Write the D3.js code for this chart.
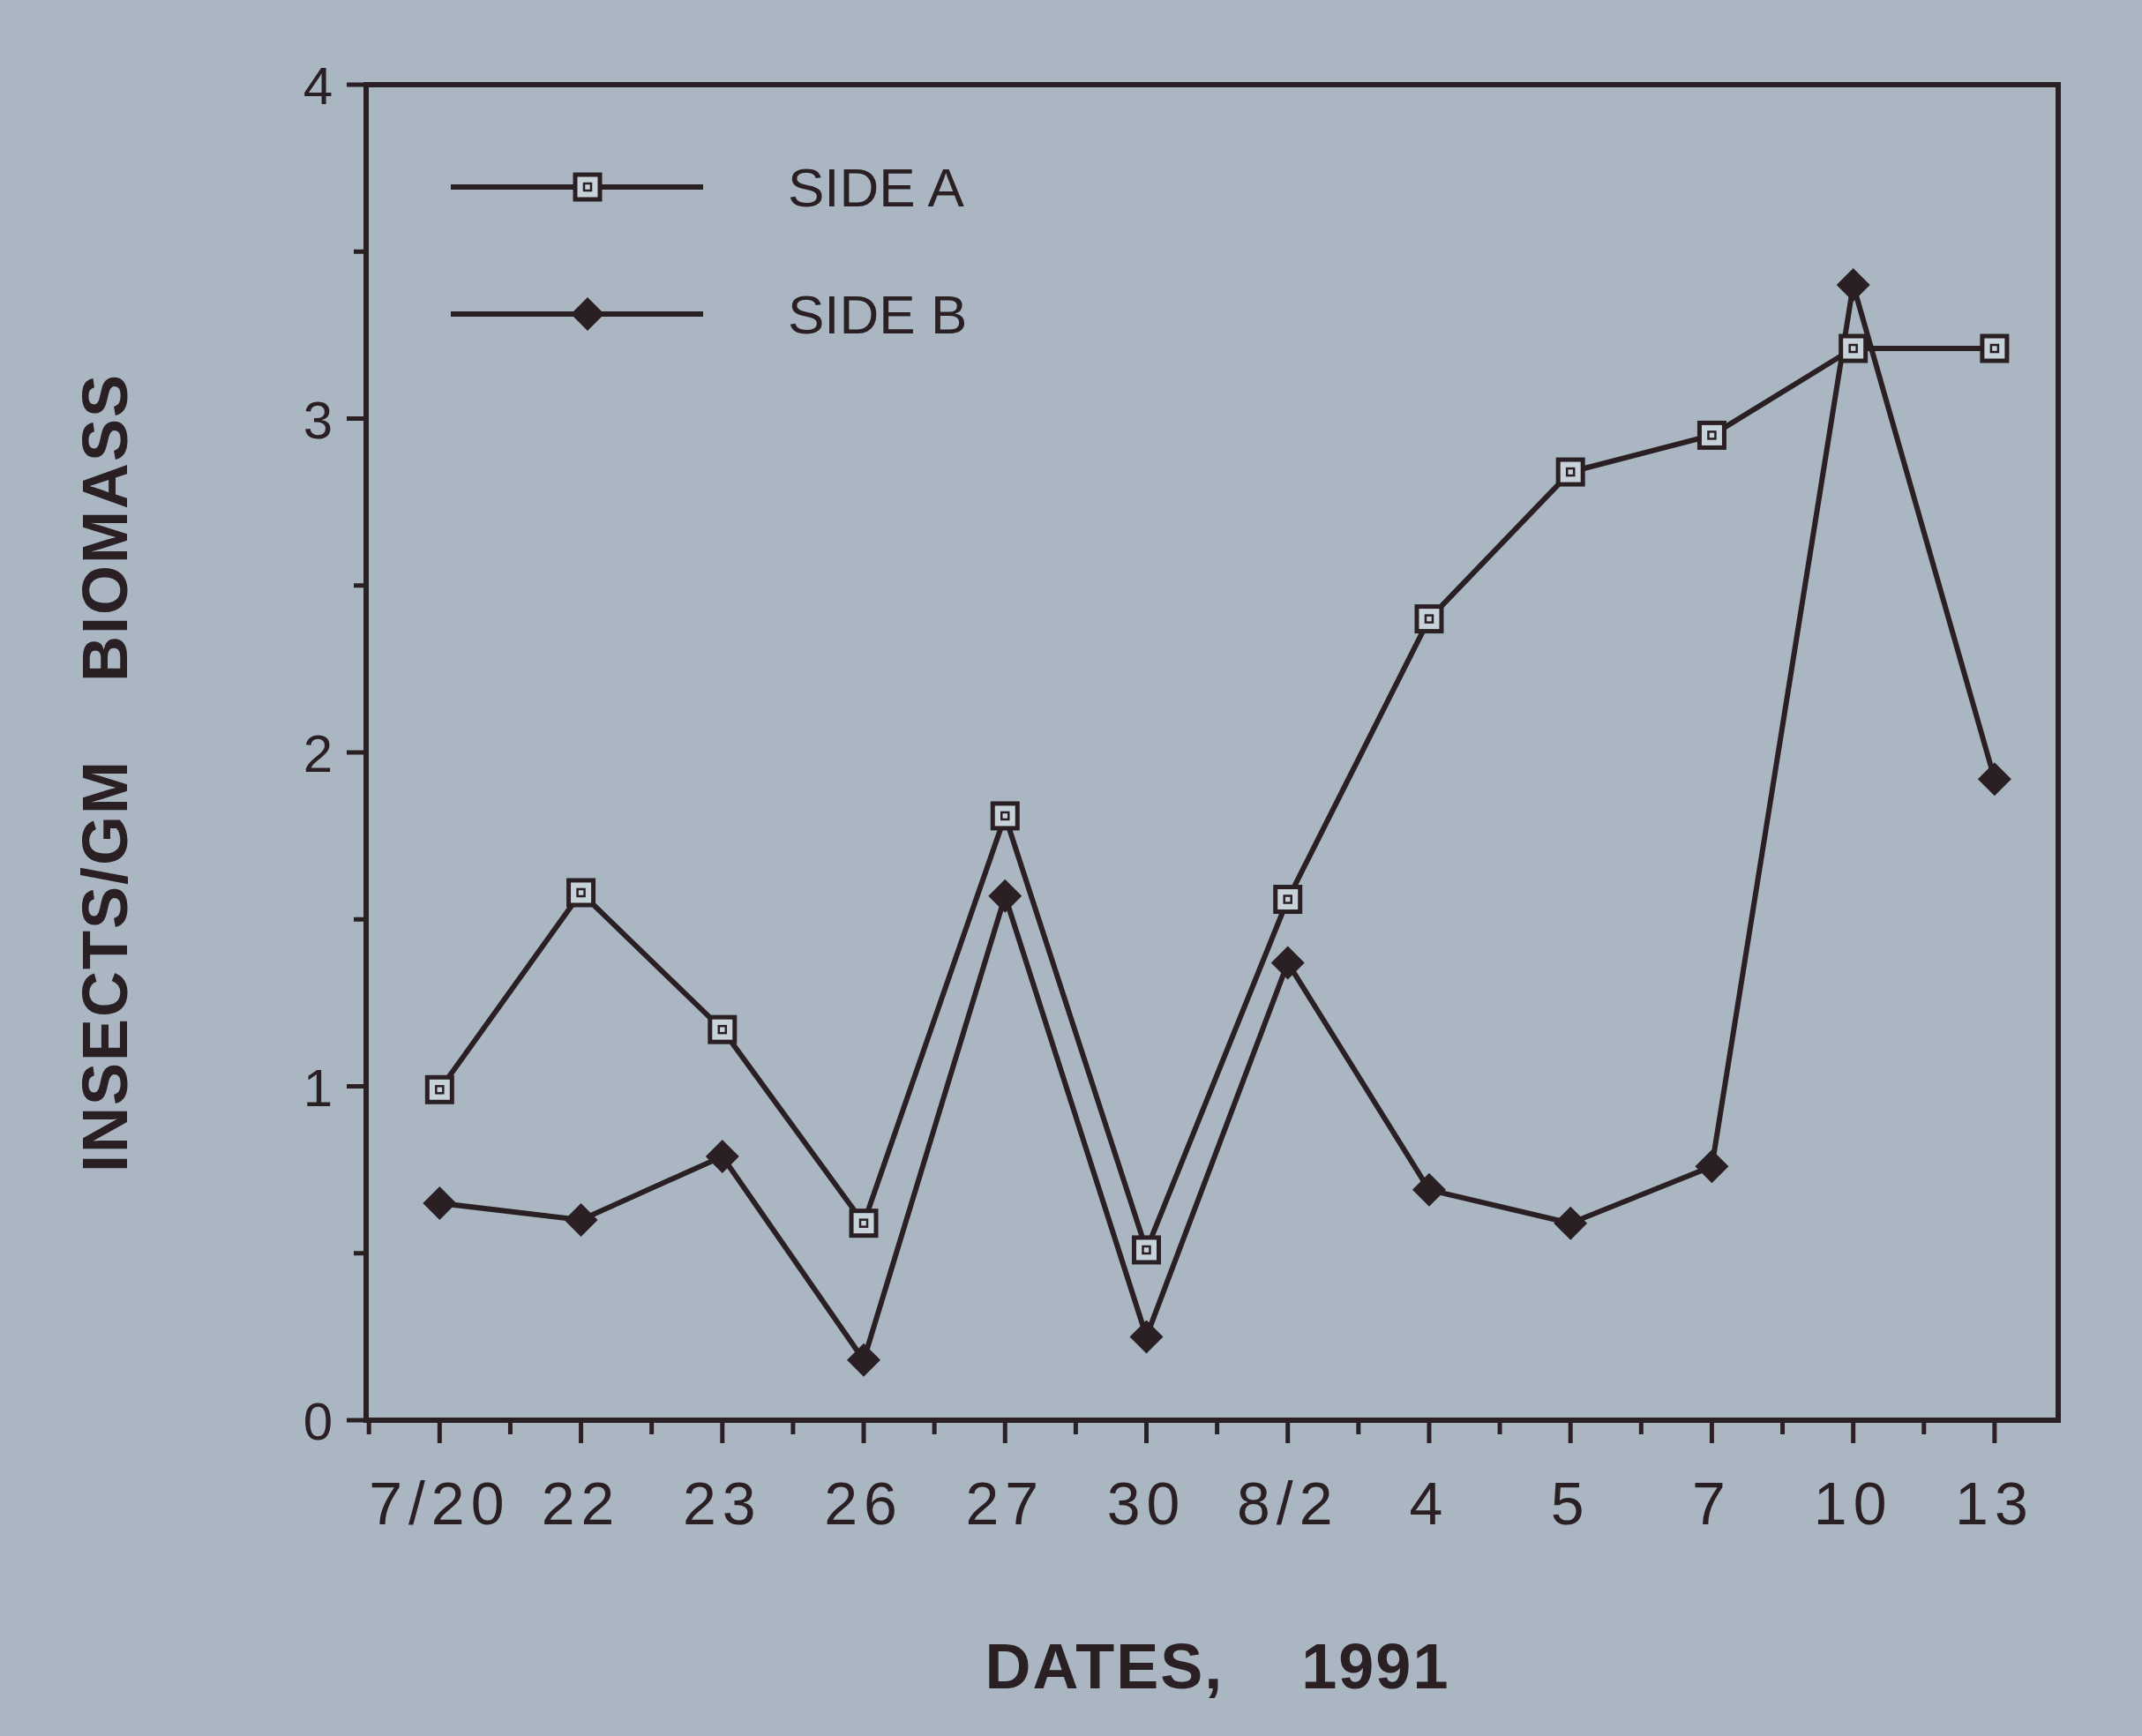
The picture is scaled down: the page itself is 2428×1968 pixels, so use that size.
<!DOCTYPE html>
<html><head><meta charset="utf-8">
<script src="https://cdn.jsdelivr.net/npm/d3@7"></script>
<style>body{margin:0;background:#aab7c3;}</style></head>
<body><svg id="c" width="2428" height="1968"></svg>
<script>
const dates = ["7/20","22","23","26","27","30","8/2","4","5","7","10","13"];
const sideA = [0.99,1.58,1.17,0.59,1.81,0.51,1.56,2.40,2.84,2.95,3.21,3.21];
const sideB = [0.65,0.60,0.79,0.18,1.57,0.25,1.37,0.69,0.59,0.76,3.40,1.92];
const yTicks = [0,1,2,3,4];
const ink = "#2a2024";
const svg = d3.select("#c");
svg.append("rect").attr("width",2428).attr("height",1968).attr("fill","#aab7c3");
const L=415,R=2333,T=96,B=1610;
const x = d3.scaleLinear().domain([-0.52,11.45]).range([L,R]);
const y = d3.scaleLinear().domain([0,4]).range([B,T]);
svg.append("rect").attr("x",L).attr("y",T).attr("width",R-L).attr("height",B-T)
  .attr("fill","none").attr("stroke",ink).attr("stroke-width",6);
const g = svg.append("g").attr("font-family","Liberation Sans, Arial, sans-serif").attr("fill",ink);
d3.range(0,4.01,0.5).forEach(v=>{
  const major = Number.isInteger(v);
  g.append("line").attr("x1",L-(major?22:14)).attr("x2",L).attr("y1",y(v)).attr("y2",y(v)).attr("stroke",ink).attr("stroke-width",5);
});
yTicks.forEach(v=>g.append("text").attr("x",L-38).attr("y",y(v)+22).attr("text-anchor","end").attr("font-size",60).text(v));
dates.forEach((d,i)=>{
  g.append("line").attr("x1",x(i)).attr("x2",x(i)).attr("y1",B).attr("y2",B+26).attr("stroke",ink).attr("stroke-width",5);
  g.append("text").attr("x",x(i)).attr("y",B+118).attr("text-anchor","middle").attr("font-size",68).attr("letter-spacing",7).text(d);
});
d3.range(-0.5,11.5,0.5).filter(v=>!Number.isInteger(v)).forEach(v=>{
  g.append("line").attr("x1",x(v)).attr("x2",x(v)).attr("y1",B).attr("y2",B+16).attr("stroke",ink).attr("stroke-width",5);
});
g.append("text").attr("x",1380).attr("y",1914).attr("text-anchor","middle").attr("font-size",72).attr("font-weight","bold").attr("letter-spacing",2).attr("xml:space","preserve").text("DATES,    1991");
g.append("text").attr("transform","translate(144,876) rotate(-90)").attr("text-anchor","middle").attr("font-size",72).attr("font-weight","bold").attr("letter-spacing",2).attr("xml:space","preserve").text("INSECTS/GM    BIOMASS");
const line = d3.line().x((d,i)=>x(i)).y(d=>y(d));
svg.append("path").datum(sideA).attr("d",line).attr("fill","none").attr("stroke",ink).attr("stroke-width",6);
svg.append("path").datum(sideB).attr("d",line).attr("fill","none").attr("stroke",ink).attr("stroke-width",6);
function sq(gg,cx,cy){
  gg.append("rect").attr("x",cx-14).attr("y",cy-14).attr("width",28).attr("height",28).attr("fill","#c8d2da").attr("stroke",ink).attr("stroke-width",5);
  gg.append("rect").attr("x",cx-4).attr("y",cy-4).attr("width",8).attr("height",8).attr("fill","none").attr("stroke",ink).attr("stroke-width",2.5);
}
function dia(gg,cx,cy){
  gg.append("path").attr("d",`M${cx},${cy-19}L${cx+19},${cy}L${cx},${cy+19}L${cx-19},${cy}Z`).attr("fill",ink);
}
const m = svg.append("g");
sideB.forEach((v,i)=>dia(m,x(i),y(v)));
sideA.forEach((v,i)=>sq(m,x(i),y(v)));
[["SIDE A",212,sq],["SIDE B",356,dia]].forEach(([t,yy,f])=>{
  svg.append("line").attr("x1",511).attr("x2",797).attr("y1",yy).attr("y2",yy).attr("stroke",ink).attr("stroke-width",6);
  f(svg,666,yy);
  g.append("text").attr("x",893).attr("y",yy+22).attr("font-size",62).text(t);
});
</script></body></html>
